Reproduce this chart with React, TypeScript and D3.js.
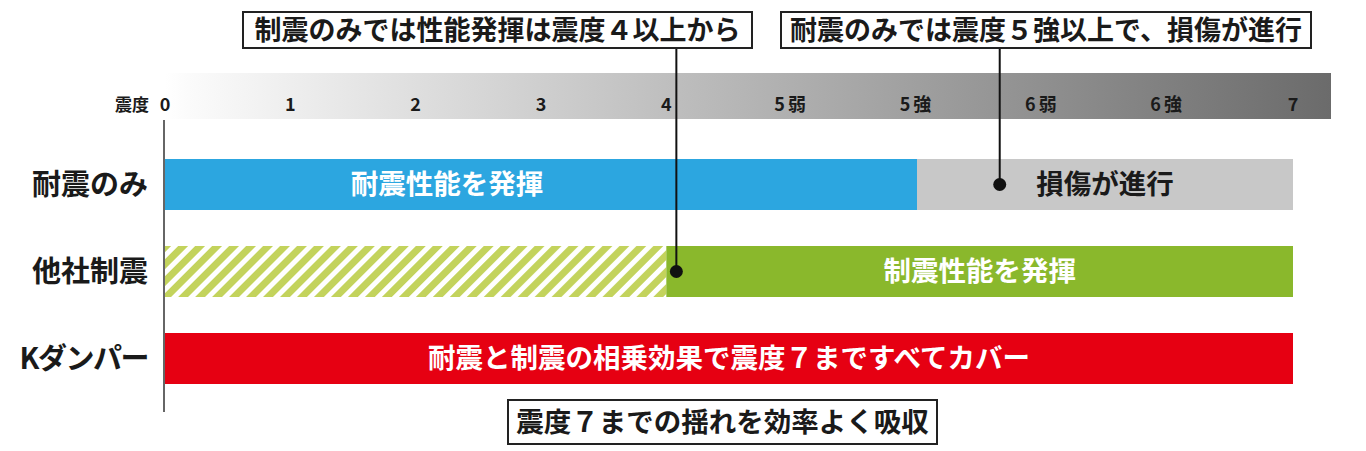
import React from "react";
import * as d3 from "d3";

const intensityTicks = ["0", "1", "2", "3", "4", "5弱", "5強", "6弱", "6強", "7"];
const rowNames = ["耐震のみ", "他社制震", "Kダンパー"];

const segRow = [0, 0, 1, 1, 2];
const segStart = [0, 6, 0, 4, 0];
const segEnd = [6, 9, 4, 9, 9];
const segKind = ["blue", "gray", "hatch", "green", "red"];
const segLabel = ["耐震性能を発揮", "損傷が進行", "", "制震性能を発揮", "耐震と制震の相乗効果で震度７まですべてカバー"];
const segLabelAt = [2.25, 7.5, 2, 6.5, 4.5];

const calloutText = ["制震のみでは性能発揮は震度４以上から", "耐震のみでは震度５強以上で、損傷が進行"];
const calloutAt = [4.08, 6.66];
const calloutRow = [1, 0];
const bottomNote = "震度７までの揺れを効率よく吸収";

const FONT = "'Noto Sans CJK JP', 'Noto Sans', sans-serif";

const fills: Record<string, string> = {
  blue: "#2ca6e0",
  gray: "#c8c8c8",
  hatch: "url(#hatch)",
  green: "#8ab82c",
  red: "#e60012",
};
const textColor: Record<string, string> = {
  blue: "#ffffff",
  gray: "#1a1a1a",
  hatch: "#ffffff",
  green: "#ffffff",
  red: "#ffffff",
};

export default function App() {
  const x = d3.scaleLinear().domain([0, intensityTicks.length - 1]).range([165, 1293]);
  const y = d3.scalePoint<number>().domain([0, 1, 2]).range([184.5, 358.5]);
  const barH = 51;

  const boxes = [
    { x0: 243, x1: 752 },
    { x0: 781, x1: 1311 },
  ];

  return (
    <svg
      width={1366}
      height={451}
      style={{ position: "absolute", left: 0, top: 0, background: "#fff" }}
      fontFamily={FONT}
    >
      <defs>
        <linearGradient id="scaleGrad" x1="0" x2="1" y1="0" y2="0">
          <stop offset="0" stopColor="#ffffff" />
          <stop offset="0.02" stopColor="#fbfbfb" />
          <stop offset="1" stopColor="#6b6b6b" />
        </linearGradient>
        <pattern
          id="hatch"
          width={12}
          height={12}
          patternUnits="userSpaceOnUse"
          patternTransform="rotate(45)"
        >
          <rect x={0} y={0} width={12} height={12} fill="#ffffff" />
          <rect x={0} y={0} width={7} height={12} fill="#c3d35c" />
        </pattern>
      </defs>

      {/* intensity scale band */}
      <rect x={165} y={73} width={1331 - 165} height={46} fill="url(#scaleGrad)" />
      <text x={149} y={111} textAnchor="end" fontSize={17} fontWeight={700} fill="#1a1a1a">
        震度
      </text>
      {intensityTicks.map((t, i) => (
        <text
          key={t}
          x={x(i)}
          y={111}
          textAnchor="middle"
          fontSize={18}
          fontWeight={700}
          letterSpacing={t.length > 1 ? 3 : 0}
          fill="#1a1a1a"
        >
          {t}
        </text>
      ))}

      {/* bars */}
      {segRow.map((r, i) => (
        <g key={i}>
          <rect
            x={x(segStart[i])}
            y={(y(r) as number) - barH / 2}
            width={x(segEnd[i]) - x(segStart[i])}
            height={barH}
            fill={fills[segKind[i]]}
          />
          {segLabel[i] && (
            <text
              x={x(segLabelAt[i])}
              y={(y(r) as number) + 9.5}
              textAnchor="middle"
              fontSize={27.5}
              fontWeight={700}
              fill={textColor[segKind[i]]}
            >
              {segLabel[i]}
            </text>
          )}
        </g>
      ))}

      {/* vertical axis line */}
      <line x1={164} x2={164} y1={120} y2={412} stroke="#333" strokeWidth={1.5} />

      {/* row labels */}
      {rowNames.map((n, i) => (
        <text
          key={n}
          x={148}
          y={(y(i) as number) + 10}
          textAnchor="end"
          fontSize={29}
          fontWeight={700}
          letterSpacing={n.startsWith("K") ? -1.5 : 0}
          fill="#1a1a1a"
        >
          {n}
        </text>
      ))}

      {/* callouts */}
      {calloutText.map((t, i) => {
        const cx = x(calloutAt[i]);
        const cy = y(calloutRow[i]) as number;
        const b = boxes[i];
        return (
          <g key={t}>
            <line x1={cx} x2={cx} y1={48} y2={cy} stroke="#111" strokeWidth={2} />
            <circle cx={cx} cy={cy} r={6.5} fill="#111" />
            <rect
              x={b.x0}
              y={12}
              width={b.x1 - b.x0}
              height={36}
              fill="#fff"
              stroke="#222"
              strokeWidth={2}
            />
            <text
              x={(b.x0 + b.x1) / 2}
              y={39.5}
              textAnchor="middle"
              fontSize={27}
              fontWeight={700}
              fill="#1a1a1a"
            >
              {t}
            </text>
          </g>
        );
      })}

      {/* bottom note */}
      <rect x={508} y={400} width={429} height={44} fill="#fff" stroke="#222" strokeWidth={2} />
      <text x={722.5} y={432} textAnchor="middle" fontSize={27.5} fontWeight={700} fill="#1a1a1a">
        {bottomNote}
      </text>
    </svg>
  );
}
